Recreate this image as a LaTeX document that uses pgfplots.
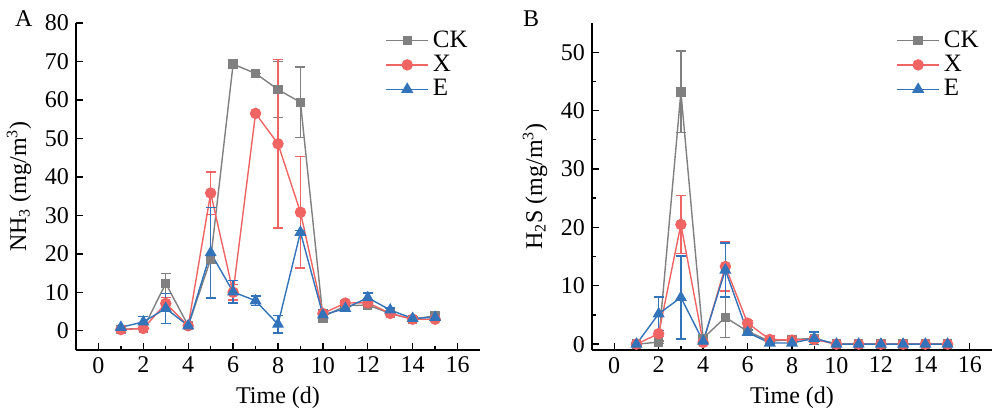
\documentclass[border=0pt]{standalone}
\usepackage{pgfplots}
\pgfplotsset{compat=1.18}
\usepackage{pgfplotstable}
\usepackage{fontspec}
\setmainfont{Liberation Serif}
\definecolor{ckc}{RGB}{128,128,128}
\definecolor{xc}{RGB}{240,100,100}
\definecolor{ec}{RGB}{50,115,185}

\pgfplotstableread{
x y e
1 0.4 0.3
2 0.6 0.3
3 12.3 2.6
4 1.3 0.3
5 18.6 1.0
6 69.3 0
7 66.9 0
8 62.7 7.3
9 59.4 9.2
10 3.6 1.5
11 6.5 0.5
12 6.7 0.5
13 4.5 0.3
14 3.0 0.3
15 3.9 0.5
}\ACK
\pgfplotstableread{
x y e
1 0.3 0.2
2 0.6 0.3
3 7.1 1.5
4 1.3 0.3
5 35.8 5.5
6 10.0 2.0
7 56.5 0
8 48.6 21.9
9 30.8 14.5
10 4.5 1.0
11 7.2 0.5
12 7.3 0.5
13 4.5 0.3
14 3.0 0.3
15 3.0 0.3
}\AX
\pgfplotstableread{
x y e
1 0.9 0.5
2 2.3 1.4
3 5.8 3.9
4 1.3 0.3
5 20.3 11.8
6 10.1 2.9
7 7.8 1.2
8 1.7 2.3
9 25.6 0.5
10 4.1 1.5
11 5.8 0.5
12 8.6 1.2
13 5.4 0.5
14 3.2 0.5
15 3.5 0.5
}\AE
\pgfplotstableread{
x y e
1 0 0
2 0.35 0.2
3 43.2 7.0
4 1.0 0.5
5 4.6 3.5
6 2.2 0.3
7 0.5 0.2
8 0.8 0.2
9 1.0 0.3
10 0 0
11 0 0
12 0 0
13 0 0
14 0 0
15 0 0
}\BCK
\pgfplotstableread{
x y e
1 0 0
2 1.8 0.5
3 20.5 5.0
4 0.3 0.3
5 13.3 4.2
6 3.6 0.5
7 0.8 0.6
8 0.7 0.3
9 0.8 0.5
10 0 0
11 0 0
12 0 0
13 0 0
14 0 0
15 0 0
}\BX
\pgfplotstableread{
x y e
1 0 0.2
2 5.2 2.9
3 8.0 7.1
4 0.5 0.5
5 12.7 4.6
6 2.0 0.4
7 0.2 0.2
8 0.2 0.2
9 1.0 1.1
10 0 0
11 0 0
12 0 0
13 0 0
14 0 0
15 0 0
}\BE

\pgfplotsset{
  mystyle/.style={
    scale only axis,
    width=202pt, height=163.5pt,
    axis lines*=left,
    axis line style={line width=0.8pt},
    tick align=inside,
    major tick length=3.5pt,
    minor tick length=2pt,
    every tick/.style={black, line width=0.7pt},
    xmin=-1, xmax=17,
    xtick={0,2,...,16},
    minor x tick num=1,
    tick label style={font=\fontsize{12}{14}\selectfont},
    label style={font=\fontsize{12}{14}\selectfont},
    /pgf/number format/assume math mode=true,
    xlabel={Time (d)},
    legend cell align=left,
    legend style={draw=none, fill=none, font=\fontsize{12.5}{14}\selectfont,
      row sep=-1.5pt, inner sep=0pt},
    legend image code/.code={\draw[mark repeat=2,mark phase=2] plot coordinates {(0cm,0cm)(0.37cm,0cm)(0.74cm,0cm)};},
    error bars/y dir=both, error bars/y explicit,
  },
  ck/.style={color=ckc, line width=0.7pt, mark=square*, mark size=2pt,
    error bars/error mark options={rotate=90, mark size=2.5pt, line width=0.7pt},
    error bars/error bar style={line width=0.7pt}},
  xs/.style={color=xc, line width=0.7pt, mark=*, mark size=2.5pt,
    error bars/error mark options={rotate=90, mark size=2.5pt, line width=0.7pt},
    error bars/error bar style={line width=0.7pt}},
  es/.style={color=ec, line width=0.7pt, mark=triangle*, mark size=2.8pt,
    error bars/error mark options={rotate=90, mark size=2.5pt, line width=0.7pt},
    error bars/error bar style={line width=0.7pt}},
}

\begin{document}
\begin{tikzpicture}
\path[use as bounding box] (0,0) rectangle (497pt,-206pt);
\begin{axis}[mystyle,
  at={(38pt,-175pt)}, anchor=south west,
  ymin=-5, ymax=80, ytick={0,10,...,80},
  ylabel={NH\textsubscript{3} (mg/m\textsuperscript{3})},
  legend style={at={(0.765,0.99)}, anchor=north west},
]
\addplot[ck] table[x=x, y=y, y error=e] {\ACK};
\addlegendentry{CK}
\addplot[xs] table[x=x, y=y, y error=e] {\AX};
\addlegendentry{X}
\addplot[es] table[x=x, y=y, y error=e] {\AE};
\addlegendentry{E}
\end{axis}
\begin{axis}[mystyle,
  at={(296pt,-175pt)}, anchor=south west,
  width=200pt,
  ymin=-1, ymax=55, ytick={0,10,...,50},
  minor y tick num=1,
  ylabel={H\textsubscript{2}S (mg/m\textsuperscript{3})},
  legend style={at={(0.76,0.99)}, anchor=north west},
]
\addplot[ck] table[x=x, y=y, y error=e] {\BCK};
\addlegendentry{CK}
\addplot[xs] table[x=x, y=y, y error=e] {\BX};
\addlegendentry{X}
\addplot[es] table[x=x, y=y, y error=e] {\BE};
\addlegendentry{E}
\end{axis}
\node[font=\fontsize{12}{14}\selectfont, anchor=base west] at (4pt,-13pt) {A};
\node[font=\fontsize{12}{14}\selectfont, anchor=base west] at (258pt,-13pt) {B};
\end{tikzpicture}
\end{document}
